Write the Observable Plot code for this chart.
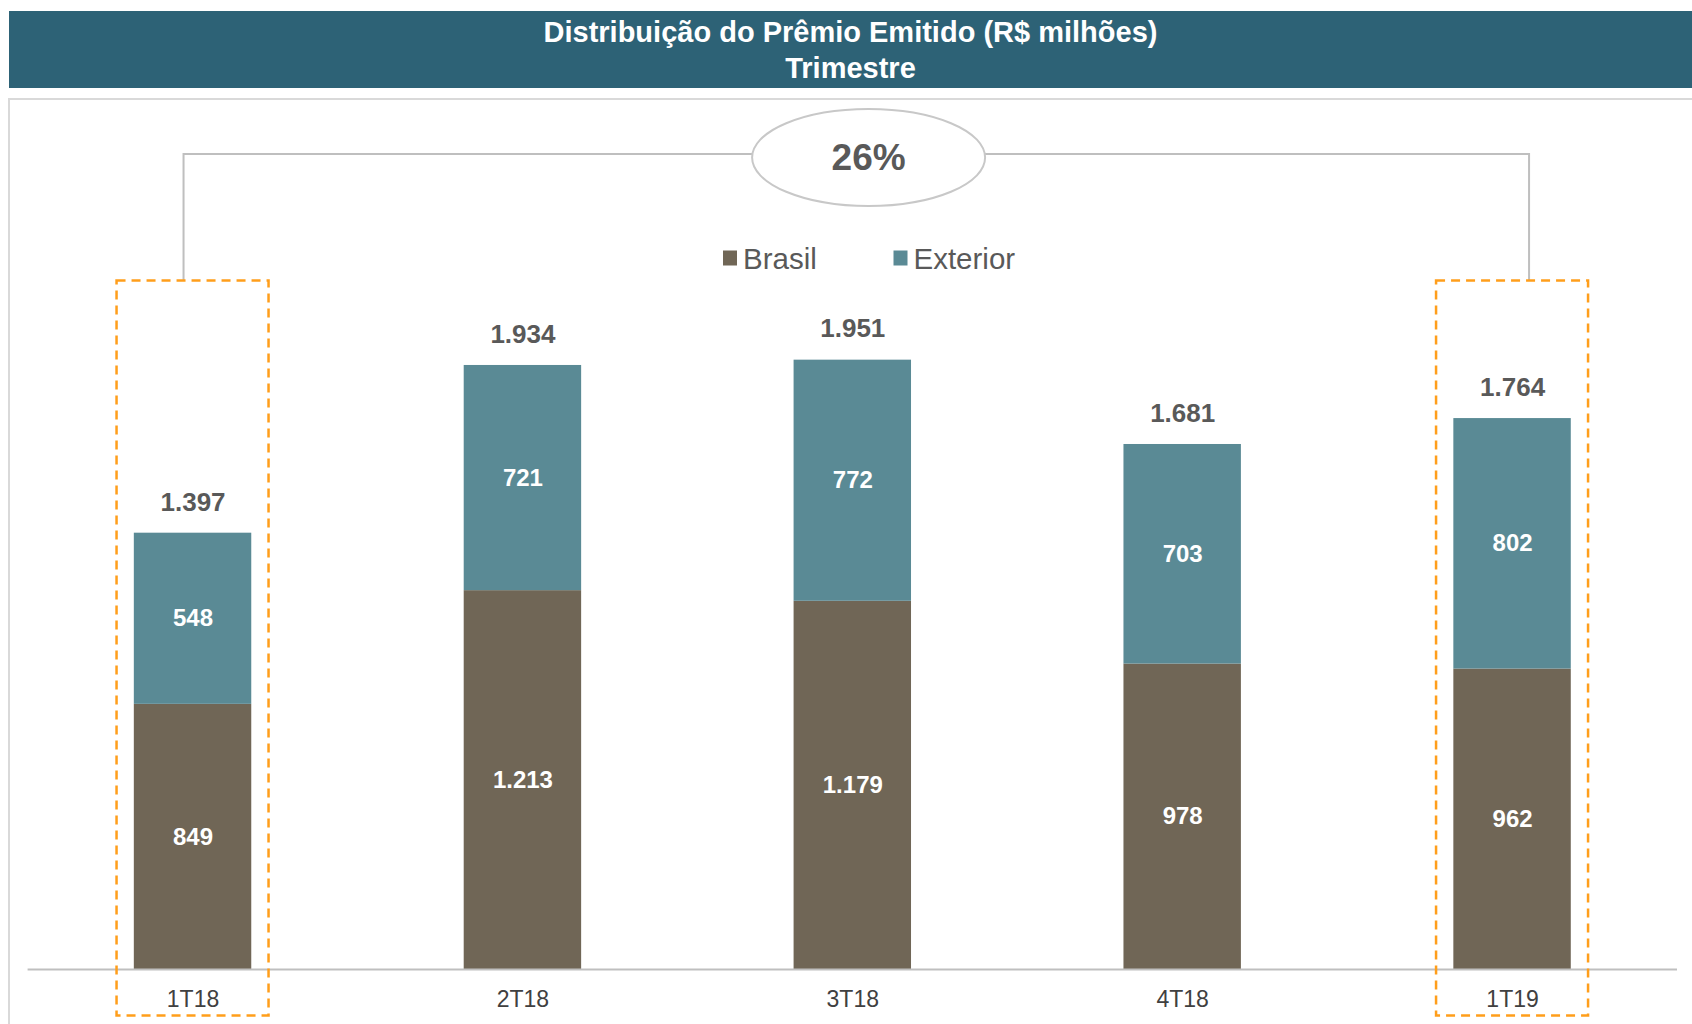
<!DOCTYPE html>
<html><head><meta charset="utf-8">
<script src="https://cdn.jsdelivr.net/npm/d3@7"></script>
<script src="https://cdn.jsdelivr.net/npm/@observablehq/plot@0.6"></script>
<style>
body{margin:0;background:#fff;font-family:"Liberation Sans",Arial,sans-serif;width:1692px;height:1024px;overflow:hidden;position:relative;}
#header{position:absolute;left:9px;top:11px;width:1683px;height:77px;background:#2D6276;color:#fff;font-weight:bold;font-size:29px;text-align:center;}
#header div{position:absolute;left:0;right:0;line-height:32px;}
#chart{position:absolute;left:0;top:88px;}
</style></head><body>
<div id="header"><div style="top:5px">Distribuição do Prêmio Emitido (R$ milhões)</div><div style="top:41px">Trimestre</div></div>
<div id="chart"></div>
<script>
const quarters = ["1T18","2T18","3T18","4T18","1T19"];
const series = ["Brasil","Exterior"];
const brasil = [849,1213,1179,978,962];
const exterior = [548,721,772,703,802];
const totals = [1397,1934,1951,1681,1764];
const growthLabel = "26%";
const highlighted = ["1T18","1T19"];
const colors = ["#706656","#5A8A95"];

const fmt = d3.formatLocale({decimal:",",thousands:".",grouping:[3],currency:["R$",""]}).format(",d");
const data = quarters.flatMap((q,i)=>[
  {q, series:"Brasil", value:brasil[i]},
  {q, series:"Exterior", value:exterior[i]}
]);
const totalData = quarters.map((q,i)=>({q, total:totals[i]}));

const W = 1692, H = 936;
const plot = Plot.plot({
  width: W, height: H,
  marginLeft: 27.6, marginRight: 15, marginTop: 100.2, marginBottom: 55,
  style: {fontFamily:"Liberation Sans, Arial, sans-serif", background:"transparent", color:"#404040", overflow:"visible"},
  x: {domain: quarters, paddingInner: 0.644, paddingOuter: 0.322, round: false, label: null},
  y: {domain: [0, 2500], axis: null},
  color: {domain: series, range: colors},
  marks: [
    Plot.barY(data, {x:"q", y:"value", fill:"series"}),
    Plot.ruleY([0], {stroke:"#bfbfbf", strokeWidth:2}),
    Plot.axisX({tickSize:0, tickPadding:21, fontSize:23, label:null}),
    Plot.text(data, Plot.stackY({x:"q", y:"value", z:"series", text:d=>fmt(d.value), fill:"white", fontWeight:"bold", fontSize:24})),
    Plot.text(totalData, {x:"q", y:"total", text:d=>fmt(d.total), dy:-31, fill:"#595959", fontWeight:"bold", fontSize:26})
  ]
});
document.getElementById("chart").appendChild(plot);

const svg = d3.select(plot);
const xs = plot.scale("x");
const bw = xs.bandwidth;
const cx = q => xs.apply(q) + bw/2;

// panel frame
svg.insert("rect", ":first-child")
  .attr("x", 9).attr("y", 11).attr("width", 1700).attr("height", 1000)
  .attr("fill", "none").attr("stroke", "#d9d9d9").attr("stroke-width", 2);

// bracket
const lx = cx(highlighted[0]) - 9, rx = cx(highlighted[1]) + 17;
svg.append("path")
  .attr("d", `M${lx},192.5V66H${rx}V192.5`)
  .attr("fill", "none").attr("stroke", "#bfbfbf").attr("stroke-width", 2);
svg.append("ellipse")
  .attr("cx", 868.6).attr("cy", 69.5).attr("rx", 116.5).attr("ry", 48.5)
  .attr("fill", "#fff").attr("stroke", "#c8c8c8").attr("stroke-width", 2);
svg.append("text")
  .attr("x", 868.6).attr("y", 69.5).attr("text-anchor", "middle").attr("dominant-baseline", "central")
  .attr("font-size", 37).attr("font-weight", "bold").attr("fill", "#595959")
  .text(growthLabel);

// highlight boxes
for (const q of highlighted) {
  svg.append("rect")
    .attr("x", cx(q) - 76).attr("y", 192.5).attr("width", 152).attr("height", 735)
    .attr("fill", "none").attr("stroke", "#FF9E1B").attr("stroke-width", 2.5)
    .attr("stroke-dasharray", "9,6");
}

// legend
const legendX = [723, 893.5];
series.forEach((s, i) => {
  svg.append("rect").attr("x", legendX[i]).attr("y", 162.5).attr("width", 14).attr("height", 15)
    .attr("fill", colors[i]);
  svg.append("text").attr("x", legendX[i] + 20).attr("y", 170).attr("dominant-baseline", "central")
    .attr("text-anchor", "start")
    .attr("font-size", 29.5).attr("fill", "#595959").text(s);
});
</script>
</body></html>
